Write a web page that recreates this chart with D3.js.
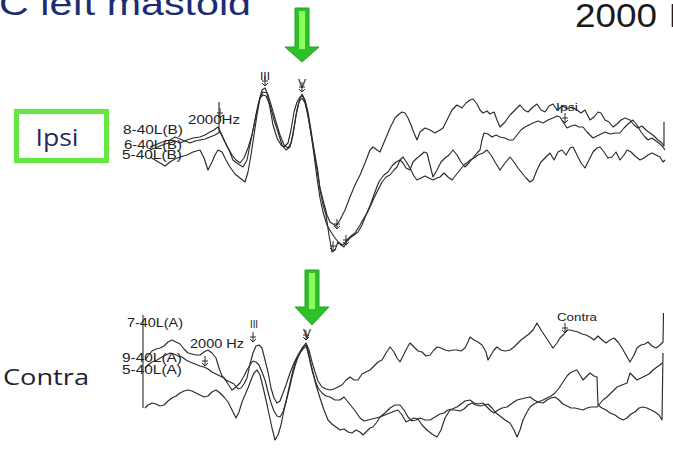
<!DOCTYPE html>
<html>
<head>
<meta charset="utf-8">
<script src="https://cdn.jsdelivr.net/npm/d3@7"></script>
<style>
  html, body { margin: 0; padding: 0; background: #fff; }
  svg { display: block; }
</style>
</head>
<body>
<svg id="chart" width="673" height="450"></svg>
<script>
// ABR recordings, 2000 Hz tone burst, left mastoid; latency in ms, amplitude in µV
const titleText = "C left mastoid";
const stimulusText = ["2000", "Hz"];
const panelNames = ["Ipsi", "Contra"];
const ipsiTraceLabels = ["8-40L(B)", "6-40L(B)", "5-40L(B)"];
const contraTraceLabels = ["7-40L(A)", "9-40L(A)", "5-40L(A)"];
const waveLabels = ["III", "V"];
const freqLabel = ["2000Hz", "2000 Hz"];
const waveVLatency = [3.14, 3.34];

const ipsiUpper = [
  [0.10,-0.05],[0.20,-0.03],[0.30,-0.01],[0.40,0.01],[0.50,0.02],[0.60,0.04],[0.70,0.02],[0.84,0.05],
  [0.96,0.07],[1.10,0.08],[1.20,0.10],[1.30,0.13],[1.38,0.15],[1.46,0.18],[1.52,0.12],[1.60,0.03],
  [1.68,-0.05],[1.76,-0.15],[1.86,-0.19],[1.96,-0.22],[2.04,-0.15],[2.10,0.00],[2.18,0.20],[2.26,0.40],
  [2.34,0.55],[2.40,0.57],[2.46,0.50],[2.54,0.37],[2.62,0.23],[2.70,0.10],[2.78,0.00],[2.86,-0.03],
  [2.92,0.02],[2.98,0.17],[3.04,0.35],[3.10,0.47],[3.14,0.51],[3.20,0.45],[3.26,0.33],[3.32,0.15],
  [3.38,-0.05],[3.44,-0.25],[3.50,-0.43],[3.56,-0.55],[3.64,-0.70],[3.70,-0.77],[3.76,-0.79],[3.82,-0.81],
  [3.90,-0.75],[4.00,-0.65],[4.10,-0.52],[4.20,-0.40],[4.30,-0.30],[4.40,-0.18],[4.50,-0.05],[4.56,-0.02],
  [4.64,-0.05],[4.70,-0.07],[4.80,0.05],[4.90,0.17],[5.00,0.27],[5.06,0.30],[5.14,0.33],[5.20,0.32],
  [5.26,0.27],[5.32,0.20],[5.38,0.12],[5.44,0.05],[5.50,0.13],[5.60,0.17],[5.70,0.15],[5.80,0.12],
  [5.90,0.15],[5.96,0.17],[6.04,0.25],[6.14,0.35],[6.24,0.40],[6.34,0.37],[6.42,0.42],[6.50,0.45],
  [6.56,0.46],[6.64,0.41],[6.70,0.35],[6.76,0.32],[6.84,0.34],[6.90,0.31],[6.98,0.33],[7.04,0.25],
  [7.10,0.18],[7.20,0.23],[7.30,0.30],[7.40,0.35],[7.50,0.40],[7.58,0.35],[7.66,0.33],[7.76,0.38],
  [7.84,0.41],[7.92,0.35],[8.00,0.33],[8.08,0.39],[8.16,0.41],[8.24,0.35],[8.30,0.37],[8.36,0.39],
  [8.44,0.36],[8.54,0.38],[8.64,0.35],[8.72,0.32],[8.80,0.35],[8.90,0.25],[8.98,0.28],[9.06,0.33],
  [9.12,0.32],[9.20,0.25],[9.28,0.23],[9.36,0.18],[9.44,0.21],[9.52,0.25],[9.60,0.27],[9.70,0.25],
  [9.78,0.20],[9.86,0.17],[9.94,0.19],[10.02,0.15],[10.10,0.12],[10.18,0.09],[10.26,0.05],[10.34,0.02],
  [10.38,-0.01],[10.38,0.23]
];
const ipsiMiddle = [
  [0.10,-0.02],[0.20,0.00],[0.30,0.02],[0.40,0.04],[0.50,0.05],[0.60,0.08],[0.70,0.06],[0.80,0.04],
  [0.90,0.02],[1.00,0.04],[1.10,0.05],[1.20,0.06],[1.30,0.08],[1.40,0.10],[1.50,0.13],[1.58,0.05],
  [1.66,-0.03],[1.74,-0.10],[1.82,-0.15],[1.90,-0.18],[1.98,-0.13],[2.06,-0.03],[2.14,0.10],[2.22,0.30],
  [2.30,0.47],[2.36,0.50],[2.42,0.49],[2.50,0.40],[2.58,0.25],[2.66,0.13],[2.74,0.00],[2.82,-0.05],
  [2.90,-0.02],[2.96,0.10],[3.02,0.30],[3.08,0.43],[3.14,0.47],[3.20,0.42],[3.26,0.30],[3.32,0.12],
  [3.38,-0.10],[3.44,-0.33],[3.50,-0.53],[3.56,-0.67],[3.64,-0.80],[3.72,-0.87],[3.80,-0.93],[3.88,-0.98],
  [3.96,-1.00],[4.04,-0.95],[4.12,-0.91],[4.20,-0.88],[4.30,-0.80],[4.38,-0.73],[4.44,-0.68],[4.52,-0.58],
  [4.60,-0.47],[4.66,-0.39],[4.70,-0.35],[4.78,-0.30],[4.86,-0.27],[4.94,-0.21],[5.02,-0.17],[5.10,-0.15],
  [5.16,-0.18],[5.22,-0.23],[5.30,-0.25],[5.36,-0.17],[5.44,-0.13],[5.52,-0.10],[5.58,-0.07],[5.64,-0.08],
  [5.70,-0.20],[5.76,-0.32],[5.84,-0.25],[5.92,-0.17],[6.00,-0.13],[6.08,-0.10],[6.16,-0.05],[6.24,-0.10],
  [6.32,-0.17],[6.40,-0.22],[6.48,-0.18],[6.56,-0.13],[6.64,-0.08],[6.70,-0.05],[6.74,0.05],[6.78,0.12],
  [6.86,0.11],[6.94,0.08],[7.02,0.10],[7.10,0.08],[7.20,0.07],[7.28,0.05],[7.36,0.05],[7.44,0.10],
  [7.52,0.15],[7.60,0.18],[7.68,0.20],[7.76,0.22],[7.86,0.24],[7.96,0.22],[8.06,0.25],[8.16,0.27],
  [8.24,0.29],[8.30,0.28],[8.36,0.23],[8.44,0.17],[8.52,0.19],[8.60,0.20],[8.68,0.18],[8.76,0.18],
  [8.84,0.13],[8.90,0.10],[8.96,0.07],[9.04,0.09],[9.12,0.11],[9.20,0.13],[9.30,0.11],[9.40,0.12],
  [9.50,0.12],[9.58,0.17],[9.66,0.21],[9.76,0.25],[9.84,0.20],[9.92,0.13],[10.00,0.08],[10.06,0.05],
  [10.14,0.07],[10.22,0.04],[10.30,0.01],[10.36,-0.02],[10.40,-0.05]
];
const ipsiLower = [
  [0.10,-0.12],[0.20,-0.15],[0.30,-0.18],[0.40,-0.21],[0.50,-0.17],[0.60,-0.14],[0.70,-0.12],[0.84,-0.10],
  [0.96,-0.07],[1.10,-0.05],[1.18,-0.13],[1.26,-0.25],[1.34,-0.17],[1.40,-0.10],[1.46,-0.05],[1.54,-0.07],
  [1.62,-0.15],[1.70,-0.22],[1.80,-0.29],[1.90,-0.33],[2.00,-0.37],[2.06,-0.27],[2.12,-0.10],[2.18,0.10],
  [2.24,0.30],[2.30,0.47],[2.36,0.53],[2.44,0.52],[2.50,0.37],[2.56,0.20],[2.64,0.07],[2.72,0.00],
  [2.78,-0.02],[2.86,0.02],[2.92,0.15],[2.98,0.33],[3.04,0.43],[3.10,0.48],[3.16,0.49],[3.22,0.40],
  [3.28,0.23],[3.34,0.05],[3.40,-0.10],[3.46,-0.27],[3.50,-0.45],[3.56,-0.60],[3.62,-0.70],[3.68,-0.90],
  [3.74,-1.07],[3.80,-1.05],[3.86,-0.97],[3.92,-1.00],[3.98,-1.02],[4.04,-0.96],[4.10,-0.93],[4.18,-0.90],
  [4.26,-0.87],[4.34,-0.80],[4.42,-0.70],[4.50,-0.62],[4.58,-0.53],[4.66,-0.45],[4.74,-0.37],[4.82,-0.32],
  [4.90,-0.30],[4.98,-0.25],[5.04,-0.22],[5.10,-0.15],[5.16,-0.12],[5.24,-0.18],[5.32,-0.25],[5.38,-0.31],
  [5.44,-0.35],[5.52,-0.33],[5.60,-0.31],[5.68,-0.33],[5.76,-0.35],[5.84,-0.33],[5.90,-0.32],[5.98,-0.28],
  [6.06,-0.32],[6.14,-0.35],[6.22,-0.30],[6.30,-0.25],[6.38,-0.20],[6.46,-0.17],[6.50,-0.15],[6.58,-0.13],
  [6.66,-0.10],[6.76,-0.08],[6.84,-0.05],[6.92,-0.10],[7.00,-0.17],[7.10,-0.25],[7.20,-0.18],[7.30,-0.12],
  [7.38,-0.17],[7.46,-0.23],[7.54,-0.28],[7.62,-0.33],[7.70,-0.37],[7.76,-0.35],[7.84,-0.25],[7.92,-0.17],
  [8.00,-0.13],[8.10,-0.08],[8.18,-0.15],[8.26,-0.07],[8.34,-0.05],[8.42,-0.10],[8.50,-0.03],[8.56,-0.02],
  [8.64,-0.10],[8.72,-0.18],[8.80,-0.23],[8.88,-0.15],[8.96,-0.07],[9.04,-0.03],[9.10,-0.02],[9.18,-0.07],
  [9.26,-0.13],[9.34,-0.12],[9.42,-0.07],[9.50,-0.15],[9.58,-0.10],[9.64,-0.05],[9.72,-0.07],[9.80,-0.11],
  [9.90,-0.15],[9.98,-0.13],[10.06,-0.10],[10.14,-0.08],[10.22,-0.10],[10.30,-0.12],[10.36,-0.17],[10.40,-0.15]
];
const contraUpper = [
  [0.00,0.05],[0.06,0.09],[0.14,0.14],[0.22,0.16],[0.30,0.17],[0.38,0.19],[0.46,0.23],[0.54,0.25],
  [0.62,0.23],[0.70,0.21],[0.78,0.16],[0.86,0.12],[0.94,0.11],[1.02,0.10],[1.10,0.10],[1.18,0.13],
  [1.26,0.15],[1.34,0.12],[1.42,0.07],[1.48,-0.03],[1.54,-0.11],[1.62,-0.15],[1.70,-0.17],[1.78,-0.19],
  [1.86,-0.24],[1.92,-0.23],[1.98,-0.19],[2.04,-0.13],[2.10,0.01],[2.16,0.12],[2.22,0.19],[2.28,0.20],
  [2.34,0.17],[2.40,0.05],[2.46,-0.07],[2.52,-0.23],[2.58,-0.33],[2.64,-0.38],[2.70,-0.36],[2.76,-0.28],
  [2.82,-0.20],[2.90,-0.08],[2.98,0.02],[3.06,0.10],[3.14,0.17],[3.22,0.22],[3.28,0.15],[3.34,0.03],
  [3.40,-0.07],[3.46,-0.16],[3.54,-0.22],[3.62,-0.24],[3.70,-0.25],[3.78,-0.24],[3.86,-0.22],[3.94,-0.20],
  [4.02,-0.15],[4.10,-0.12],[4.18,-0.15],[4.26,-0.15],[4.34,-0.09],[4.42,-0.07],[4.50,-0.05],[4.58,-0.01],
  [4.66,0.03],[4.74,0.05],[4.82,0.12],[4.90,0.18],[4.98,0.13],[5.04,0.07],[5.10,0.03],[5.16,0.09],
  [5.24,0.17],[5.30,0.22],[5.38,0.18],[5.46,0.14],[5.54,0.13],[5.62,0.09],[5.70,0.10],[5.78,0.15],
  [5.84,0.18],[5.92,0.17],[6.00,0.15],[6.08,0.14],[6.16,0.15],[6.24,0.15],[6.32,0.14],[6.40,0.17],
  [6.46,0.23],[6.50,0.28],[6.58,0.25],[6.66,0.23],[6.74,0.20],[6.82,0.13],[6.86,0.05],[6.92,0.10],
  [6.98,0.15],[7.04,0.18],[7.12,0.15],[7.20,0.14],[7.30,0.15],[7.38,0.18],[7.46,0.22],[7.52,0.25],
  [7.60,0.28],[7.68,0.31],[7.76,0.35],[7.84,0.42],[7.92,0.35],[8.00,0.29],[8.08,0.23],[8.16,0.17],
  [8.24,0.22],[8.30,0.27],[8.38,0.31],[8.44,0.35],[8.50,0.35],[8.58,0.34],[8.66,0.33],[8.74,0.31],
  [8.82,0.30],[8.90,0.28],[8.98,0.25],[9.06,0.29],[9.14,0.25],[9.22,0.22],[9.30,0.25],[9.38,0.27],
  [9.46,0.23],[9.54,0.17],[9.62,0.10],[9.70,0.03],[9.78,0.10],[9.84,0.17],[9.92,0.20],[10.00,0.21],
  [10.06,0.23],[10.14,0.19],[10.22,0.17],[10.30,0.20],[10.36,0.23],[10.37,0.52]
];
const contraMiddle = [
  [0.00,-0.03],[0.06,0.00],[0.14,0.03],[0.24,0.05],[0.34,0.08],[0.42,0.10],[0.50,0.12],[0.58,0.11],
  [0.66,0.09],[0.74,0.08],[0.82,0.05],[0.90,0.03],[1.00,0.01],[1.10,-0.01],[1.18,-0.02],[1.26,-0.04],
  [1.34,-0.07],[1.42,-0.09],[1.50,-0.11],[1.58,-0.13],[1.66,-0.19],[1.74,-0.25],[1.82,-0.22],[1.90,-0.18],
  [1.98,-0.11],[2.04,-0.05],[2.10,0.00],[2.16,0.04],[2.22,0.03],[2.28,0.00],[2.34,-0.07],[2.40,-0.15],
  [2.46,-0.27],[2.52,-0.38],[2.58,-0.46],[2.64,-0.51],[2.70,-0.52],[2.76,-0.47],[2.82,-0.37],[2.88,-0.25],
  [2.94,-0.12],[3.00,-0.01],[3.06,0.08],[3.12,0.14],[3.18,0.19],[3.22,0.20],[3.28,0.08],[3.34,-0.05],
  [3.40,-0.15],[3.46,-0.23],[3.54,-0.28],[3.62,-0.31],[3.70,-0.32],[3.80,-0.35],[3.90,-0.35],[3.98,-0.32],
  [4.06,-0.37],[4.14,-0.42],[4.22,-0.47],[4.30,-0.53],[4.38,-0.56],[4.46,-0.55],[4.54,-0.54],[4.62,-0.53],
  [4.70,-0.52],[4.80,-0.48],[4.90,-0.43],[5.00,-0.40],[5.10,-0.40],[5.18,-0.45],[5.26,-0.52],[5.34,-0.56],
  [5.42,-0.55],[5.50,-0.53],[5.60,-0.55],[5.70,-0.55],[5.80,-0.52],[5.90,-0.49],[5.98,-0.48],[6.06,-0.45],
  [6.14,-0.44],[6.24,-0.42],[6.32,-0.39],[6.40,-0.36],[6.50,-0.35],[6.58,-0.38],[6.66,-0.39],[6.76,-0.38],
  [6.84,-0.42],[6.92,-0.46],[6.98,-0.48],[7.06,-0.45],[7.14,-0.43],[7.24,-0.42],[7.32,-0.39],[7.38,-0.37],
  [7.44,-0.35],[7.52,-0.34],[7.60,-0.33],[7.70,-0.32],[7.78,-0.35],[7.86,-0.37],[7.96,-0.38],[8.04,-0.35],
  [8.12,-0.33],[8.20,-0.32],[8.28,-0.35],[8.36,-0.39],[8.44,-0.41],[8.52,-0.43],[8.60,-0.43],[8.68,-0.44],
  [8.76,-0.45],[8.84,-0.43],[8.92,-0.42],[9.04,-0.42],[9.16,-0.35],[9.24,-0.32],[9.34,-0.27],[9.44,-0.22],
  [9.54,-0.20],[9.64,-0.18],[9.70,-0.08],[9.78,-0.12],[9.84,-0.15],[9.92,-0.13],[10.00,-0.11],[10.08,-0.09],
  [10.16,-0.05],[10.24,-0.02],[10.30,0.00],[10.34,0.02]
];
const contraLower = [
  [0.00,-0.43],[0.06,-0.40],[0.14,-0.38],[0.22,-0.39],[0.30,-0.41],[0.38,-0.40],[0.46,-0.36],[0.54,-0.33],
  [0.62,-0.31],[0.70,-0.28],[0.78,-0.26],[0.86,-0.25],[0.94,-0.26],[1.02,-0.28],[1.10,-0.30],[1.18,-0.32],
  [1.26,-0.31],[1.34,-0.27],[1.42,-0.25],[1.50,-0.28],[1.58,-0.32],[1.66,-0.37],[1.74,-0.45],[1.82,-0.53],
  [1.88,-0.47],[1.94,-0.37],[2.00,-0.30],[2.06,-0.23],[2.12,-0.15],[2.18,-0.08],[2.24,-0.05],[2.30,-0.10],
  [2.36,-0.22],[2.42,-0.35],[2.48,-0.49],[2.54,-0.63],[2.60,-0.75],[2.66,-0.70],[2.72,-0.60],[2.78,-0.45],
  [2.84,-0.32],[2.90,-0.18],[2.96,-0.05],[3.02,0.05],[3.10,0.12],[3.18,0.17],[3.24,0.19],[3.30,0.05],
  [3.36,-0.08],[3.42,-0.20],[3.50,-0.33],[3.58,-0.45],[3.66,-0.55],[3.74,-0.59],[3.82,-0.62],[3.90,-0.65],
  [3.98,-0.64],[4.06,-0.67],[4.14,-0.68],[4.22,-0.65],[4.30,-0.67],[4.36,-0.70],[4.42,-0.67],[4.50,-0.63],
  [4.56,-0.62],[4.64,-0.57],[4.70,-0.52],[4.80,-0.50],[4.90,-0.48],[5.00,-0.46],[5.06,-0.45],[5.14,-0.50],
  [5.22,-0.57],[5.30,-0.55],[5.38,-0.53],[5.46,-0.54],[5.54,-0.60],[5.64,-0.65],[5.74,-0.69],[5.84,-0.72],
  [5.92,-0.65],[6.00,-0.53],[6.10,-0.45],[6.20,-0.45],[6.30,-0.46],[6.38,-0.44],[6.46,-0.40],[6.54,-0.38],
  [6.62,-0.40],[6.70,-0.41],[6.78,-0.40],[6.86,-0.39],[6.94,-0.43],[7.02,-0.48],[7.10,-0.51],[7.20,-0.55],
  [7.30,-0.58],[7.38,-0.65],[7.44,-0.72],[7.50,-0.65],[7.56,-0.55],[7.64,-0.47],[7.70,-0.42],[7.78,-0.39],
  [7.86,-0.37],[7.96,-0.35],[8.04,-0.33],[8.12,-0.31],[8.20,-0.28],[8.28,-0.23],[8.36,-0.17],[8.44,-0.11],
  [8.50,-0.08],[8.58,-0.06],[8.64,-0.05],[8.70,-0.10],[8.76,-0.15],[8.82,-0.12],[8.90,-0.08],[8.98,-0.11],
  [9.04,-0.12],[9.06,-0.40],[9.14,-0.43],[9.22,-0.45],[9.30,-0.48],[9.40,-0.50],[9.48,-0.53],[9.56,-0.55],
  [9.64,-0.53],[9.72,-0.49],[9.80,-0.47],[9.88,-0.43],[9.96,-0.42],[10.04,-0.43],[10.12,-0.45],[10.20,-0.47],
  [10.28,-0.50],[10.34,-0.55],[10.36,0.12]
];

const svg = d3.select("#chart");
const x = d3.scaleLinear().domain([0, 10.4]).range([145, 665]);
const yIpsi = d3.scaleLinear().domain([-1, 1]).range([245, 45]);
const yContra = d3.scaleLinear().domain([-1, 1]).range([465, 265]);

const ink = "#2b2b2b";
const smallFont = "'Liberation Sans', Arial, sans-serif";

// headline text (partly outside the frame)
svg.append("text").attr("x", -1).attr("y", 15)
  .attr("font-family", "'Liberation Sans', Arial, sans-serif").attr("font-size", 33)
  .attr("fill", "#1c2c72").attr("textLength", 252).attr("lengthAdjust", "spacingAndGlyphs")
  .text(titleText);
svg.append("text").attr("x", 575).attr("y", 27)
  .attr("font-family", "'Liberation Sans', Arial, sans-serif").attr("font-size", 33)
  .attr("fill", "#1a1a1a").attr("textLength", 82).attr("lengthAdjust", "spacingAndGlyphs")
  .text(stimulusText[0]);
svg.append("text").attr("x", 669).attr("y", 27)
  .attr("font-family", "'Liberation Sans', Arial, sans-serif").attr("font-size", 33)
  .attr("fill", "#1a1a1a").text(stimulusText[1]);

// panel names
svg.append("rect").attr("x", 16.5).attr("y", 111.5).attr("width", 90).attr("height", 49)
  .attr("fill", "#fff").attr("stroke", "#63e83f").attr("stroke-width", 5);
svg.append("text").attr("x", 57).attr("y", 146).attr("text-anchor", "middle")
  .attr("font-family", "'Open Sans', 'Liberation Sans', sans-serif").attr("font-size", 23)
  .attr("fill", "#1f2a5e").attr("textLength", 43).attr("lengthAdjust", "spacingAndGlyphs")
  .text(panelNames[0]);
svg.append("text").attr("x", 3).attr("y", 385)
  .attr("font-family", "'Open Sans', 'Liberation Sans', sans-serif").attr("font-size", 21)
  .attr("fill", "#1d2233").attr("textLength", 86).attr("lengthAdjust", "spacingAndGlyphs")
  .text(panelNames[1]);

// waveform traces
const line = yScale => d3.line().x(d => x(d[0])).y(d => yScale(d[1]));
const traceGroup = svg.append("g").attr("fill", "none").attr("stroke", ink)
  .attr("stroke-width", 1.15).attr("stroke-linejoin", "round");
[ipsiUpper, ipsiMiddle, ipsiLower].forEach(tr =>
  traceGroup.append("path").attr("d", line(yIpsi)(tr)));
[contraUpper, contraMiddle, contraLower].forEach(tr =>
  traceGroup.append("path").attr("d", line(yContra)(tr)));

// contra reference axis
svg.append("line").attr("x1", 143).attr("x2", 143)
  .attr("y1", yContra(0.5)).attr("y2", yContra(-0.43))
  .attr("stroke", ink).attr("stroke-width", 1.1);
// ipsi stimulus marker
svg.append("line").attr("x1", x(1.48)).attr("x2", x(1.48))
  .attr("y1", yIpsi(0.43)).attr("y2", yIpsi(0.13))
  .attr("stroke", ink).attr("stroke-width", 1.1);

function label(txt, px, py, size, len) {
  const t = svg.append("text").attr("x", px).attr("y", py)
    .attr("font-family", smallFont).attr("font-size", size).attr("fill", "#222").text(txt);
  if (len) t.attr("textLength", len).attr("lengthAdjust", "spacingAndGlyphs");
  return t;
}
// trace labels
label(ipsiTraceLabels[0], 123, 134, 12, 60);
label(ipsiTraceLabels[1], 124, 149, 12, 58);
label(ipsiTraceLabels[2], 122, 159, 12, 60);
label(contraTraceLabels[0], 127, 327, 13, 56);
label(contraTraceLabels[1], 122, 362, 12, 60);
label(contraTraceLabels[2], 122, 374, 12, 60);
label(freqLabel[0], 188, 124, 12, 52);
label(freqLabel[1], 190, 348, 13, 54);

// peak markers
function marker(px, py) {
  const g = svg.append("g").attr("stroke", ink).attr("stroke-width", 1).attr("fill", "none");
  g.append("line").attr("x1", px).attr("x2", px).attr("y1", py - 9).attr("y2", py);
  g.append("line").attr("x1", px - 3).attr("x2", px + 3).attr("y1", py - 4).attr("y2", py - 4);
  g.append("path").attr("d", `M${px - 3},${py - 2}L${px},${py + 1}L${px + 3},${py - 2}`);
}
label(waveLabels[0], x(2.40) - 5, 80, 11, 10);
marker(x(2.40), yIpsi(0.60));
label(waveLabels[1], x(3.14) - 4, 88, 12);
marker(x(3.14), yIpsi(0.54));
label(waveLabels[0], x(2.16) - 3, 328, 11, 8);
marker(x(2.16), yContra(0.24));
label(waveLabels[1], x(3.22) - 3, 338, 12);
marker(x(3.22), yContra(0.26));
marker(x(1.20), yContra(0.0));
marker(x(1.50), yIpsi(0.28));

// trough markers
marker(x(3.84), yIpsi(-0.83));
marker(x(4.02), yIpsi(-0.99));
marker(x(3.76), yIpsi(-1.05));

// end-of-sweep labels
label(panelNames[0], 556, 111, 10, 22);
marker(x(8.40), yIpsi(0.23));
label(panelNames[1], 557, 321, 11, 40);
marker(x(8.40), yContra(0.33));

// green arrows pointing at wave V
const arrowShape = (cx, top, shaftBottom, tip, shaftHalf, headHalf) =>
  `M${cx - shaftHalf},${top}H${cx + shaftHalf}V${shaftBottom}H${cx + headHalf}L${cx},${tip}L${cx - headHalf},${shaftBottom}H${cx - shaftHalf}Z`;
[[x(waveVLatency[0]), 8, 47, 62], [x(waveVLatency[1]), 270, 307, 325]].forEach(([cx, top, sb, tip]) => {
  svg.append("path").attr("d", arrowShape(cx, top, sb, tip, 7, 17))
    .attr("fill", "#2fbf2a").attr("stroke", "#22a526").attr("stroke-width", 1);
  svg.append("rect").attr("x", cx - 3).attr("y", top + 3).attr("width", 6).attr("height", sb - top - 1)
    .attr("fill", "#8dff5c");
});
</script>
</body>
</html>
